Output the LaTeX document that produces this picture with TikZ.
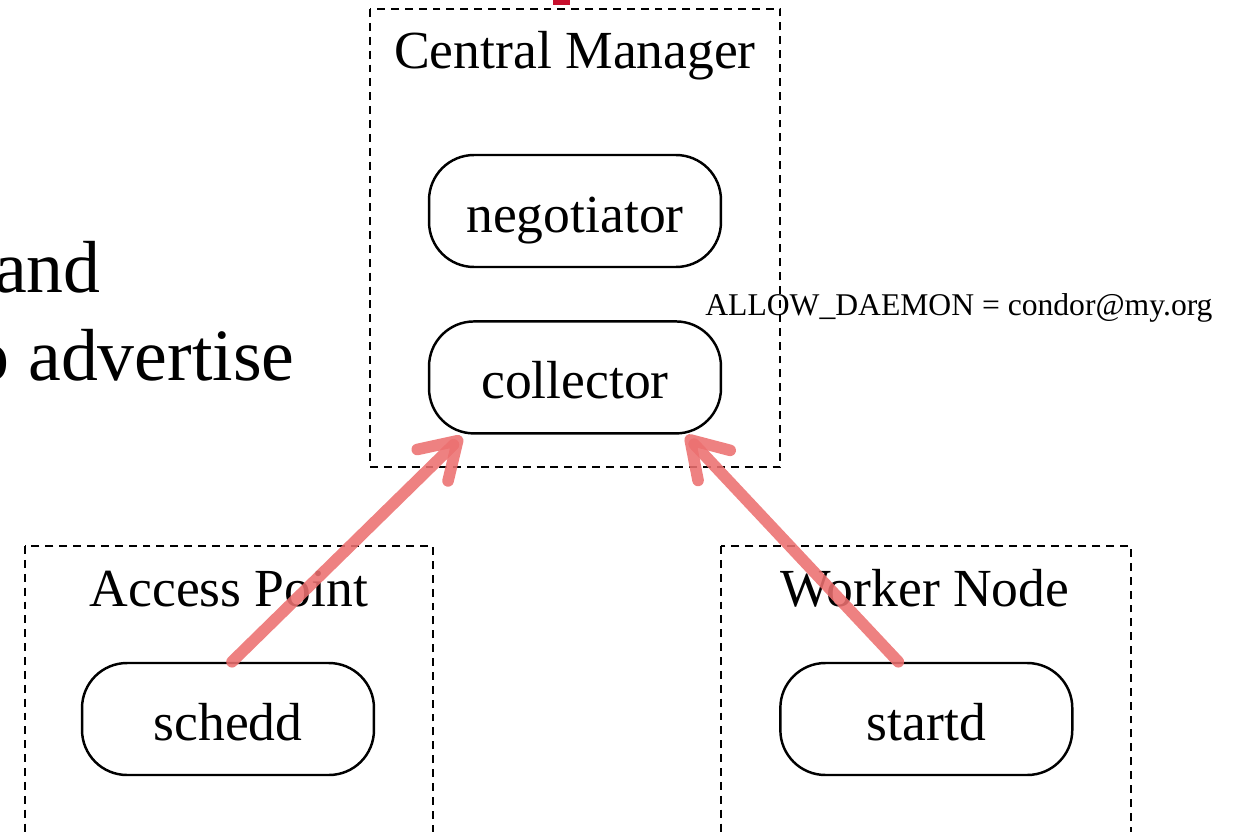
\documentclass[tikz,border=0pt]{standalone}
\usepackage{fontspec}
\setmainfont{Liberation Serif}
\usepackage{xcolor}
\usepackage{tikz}
\usetikzlibrary{positioning}
\usetikzlibrary{calc}
\usetikzlibrary{arrows.meta}
\definecolor{linkred}{RGB}{236,112,112}
\definecolor{slidered}{RGB}{200,16,46}
\tikzset{edge/.style = {-{Straight Barb[length=0.7cm,width=0.88cm,round]}, draw=linkred, draw opacity=0.88, line width=6.6pt, line cap=round}}

\begin{document}
\begin{tikzpicture}[x=0.02cm,y=-0.02cm,node distance=1cm,
    daemon/.style={rectangle,draw,rounded corners=0.9cm,line width=1.4pt,minimum width=5.84cm,minimum height=2.24cm,text height=24pt,text depth=0pt,font=\fontsize{30.5}{36}\selectfont},
    host/.style={draw,line width=1.1pt,dash pattern=on 4.5pt off 3.4pt},
    hosttitle/.style={anchor=base,inner sep=0pt,font=\fontsize{30.5}{36}\selectfont}]
    \useasboundingbox (0,0) rectangle (1245,832);

    % hosts
    \draw[host] (370,9) rectangle (780,467);
    \draw[host] (25,546) rectangle (433,860);
    \draw[host] (721,546) rectangle (1131,860);
    \node[hosttitle] (cmtitle) at (575,68) {Central Manager};
    \node[hosttitle] (aptitle) at (229,606) {Access Point};
    \node[hosttitle] (wntitle) at (925,606) {Worker Node};

    % daemons
    \node[daemon] (negotiator) at (575,211) {negotiator};
    \node[daemon] (collector) [below=1.04cm of negotiator] {collector};
    \node[daemon] (schedd) at (228,719) {schedd};
    \node[daemon] (startd) [right=8.08cm of schedd] {startd};

    % text
    \node[anchor=base west,inner sep=0pt,font=\fontsize{18}{22}\selectfont] (allow) at (705,315) {ALLOW\_DAEMON = condor@my.org};
    \node[anchor=base east,inner sep=0pt,font=\fontsize{42}{50}\selectfont] (line1) at (101,292) {and};
    \node[anchor=base east,inner sep=0pt,font=\fontsize{42}{50}\selectfont] (line2) at (295,380) {o advertise};
    \fill[slidered] (553,0) rectangle (570,5);

    % advertise
    \draw[edge] ($(schedd.north)+(4,0)$) -- ($(collector.south west)+(34,2)$);
    \draw[edge] ($(startd.north)+(-28,0)$) -- ($(collector.south east)+(-36,1)$);
\end{tikzpicture}
\end{document}
